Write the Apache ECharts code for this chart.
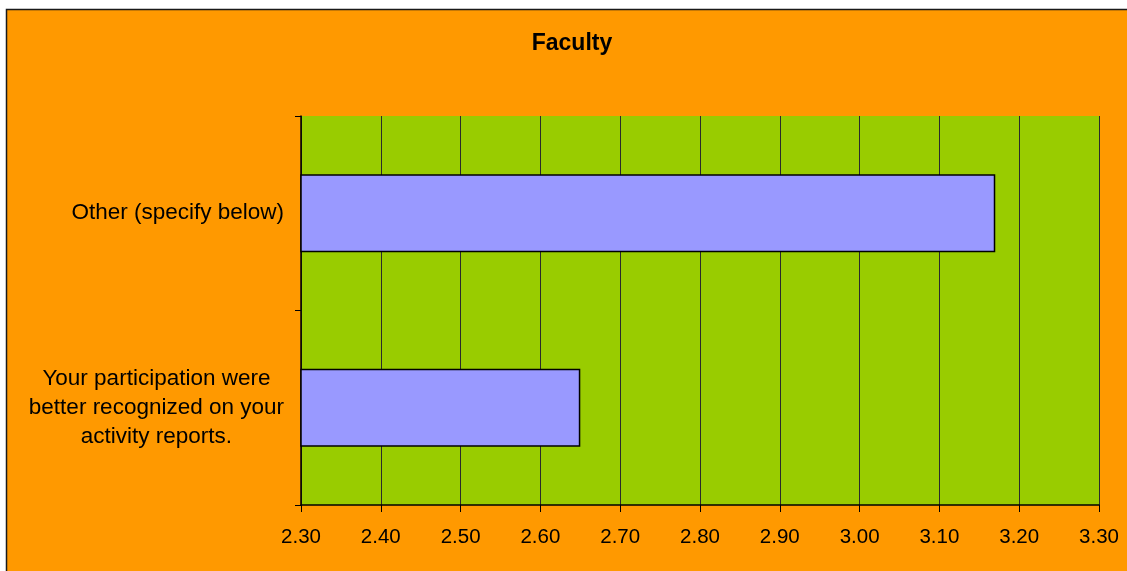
<!DOCTYPE html>
<html>
<head>
<meta charset="utf-8">
<title>Faculty</title>
<script src="https://cdn.jsdelivr.net/npm/echarts@6/dist/echarts.min.js"></script>
<style>
  html, body { margin: 0; padding: 0; background: #ffffff; }
  #chart { width: 1127px; height: 571px; }
</style>
</head>
<body>
<div id="chart"></div>
<script>
// Survey item categories (bottom to top) and their mean scores
const categories = [
  'Your participation were\nbetter recognized on your\nactivity reports.',
  'Other (specify below)'
];
const scores = [2.65, 3.17];
const axisMin = 2.3;
const axisMax = 3.3;
const axisStep = 0.1;

const FONT = 'Arial, "Liberation Sans", sans-serif';

const chart = echarts.init(document.getElementById('chart'), null, { renderer: 'canvas' });

chart.setOption({
  backgroundColor: '#ffffff',
  animation: false,
  graphic: [{
    type: 'rect',
    z: -10,
    silent: true,
    shape: { x: 6.5, y: 9.5, width: 1140, height: 580 },
    style: { fill: '#FF9900', stroke: '#1a1a1a', lineWidth: 1.5 }
  }],
  title: {
    text: 'Faculty',
    left: 567,
    top: 27,
    textAlign: 'center',
    textStyle: { fontFamily: FONT, fontSize: 23, fontWeight: 'bold', color: '#000' }
  },
  grid: { left: 301, right: 28, top: 116, bottom: 66, containLabel: false,
          show: true, backgroundColor: '#99CC00', borderWidth: 0 },
  xAxis: {
    type: 'value',
    min: axisMin,
    max: axisMax,
    interval: axisStep,
    axisLine: { show: true, lineStyle: { color: '#000', width: 1.5 } },
    axisTick: { show: true, length: 7, lineStyle: { color: '#000', width: 1 } },
    splitLine: { show: true, lineStyle: { color: '#2b2b2b', width: 1 } },
    axisLabel: {
      margin: 22,
      fontFamily: FONT,
      fontSize: 20.5,
      color: '#000',
      formatter: v => v.toFixed(2)
    }
  },
  yAxis: {
    type: 'category',
    data: categories,
    axisLine: { show: true, lineStyle: { color: '#000', width: 1.5 } },
    axisTick: { show: true, length: 6, lineStyle: { color: '#000', width: 1 } },
    axisLabel: {
      margin: 17,
      fontFamily: FONT,
      fontSize: 22.5,
      color: '#000',
      lineHeight: 29,
      formatter: v => v.indexOf('\n') >= 0
        ? v.split('\n').map(s => '{c|' + s + '}').join('\n')
        : v,
      rich: {
        c: { align: 'center', fontFamily: FONT, fontSize: 22.5, color: '#000', lineHeight: 29 }
      }
    }
  },
  series: [{
    type: 'bar',
    data: scores,
    barCategoryGap: '60%',
    itemStyle: { color: '#9999FF', borderColor: '#000', borderWidth: 1.5 }
  }]
});
</script>
</body>
</html>
